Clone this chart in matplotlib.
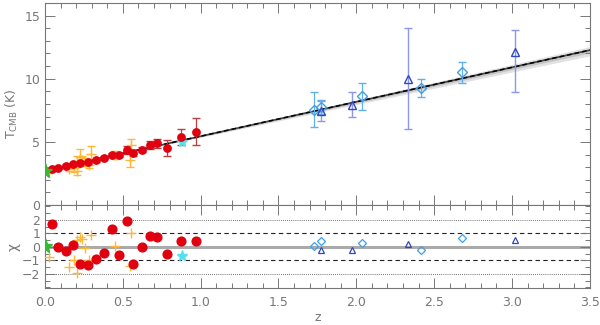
import numpy as np
import matplotlib
matplotlib.use("Agg")
import matplotlib.pyplot as plt
from matplotlib.ticker import MultipleLocator

# ---------------- data ----------------
# SZ clusters (red circles)
red_z = [0.043, 0.081, 0.133, 0.177, 0.224, 0.278, 0.327, 0.380, 0.432, 0.474,
         0.526, 0.566, 0.622, 0.677, 0.720, 0.784, 0.872, 0.972]
red_T = [2.86, 2.94, 3.12, 3.23, 3.31, 3.44, 3.55, 3.76, 3.97, 3.94,
         4.37, 4.10, 4.39, 4.76, 4.89, 4.52, 5.37, 5.82]
red_err = [0.08, 0.08, 0.10, 0.10, 0.12, 0.15, 0.12, 0.15, 0.15, 0.15,
           0.30, 0.25, 0.20, 0.30, 0.35, 0.65, 0.65, 1.05]
red_chi = [1.70, 0.00, -0.30, 0.15, -1.28, -1.38, -0.87, -0.44, 1.31, -0.59,
           1.95, -1.24, 0.00, 0.79, 0.72, -0.54, 0.44, 0.47]

# other SZ samples (orange crosses)
org_z = [0.028, 0.156, 0.188, 0.203, 0.207, 0.224, 0.235, 0.256, 0.293, 0.284,
         0.450, 0.551, 0.545]
org_T = [2.70, 2.86, 2.95, 2.70, 3.50, 3.80, 3.55, 3.40, 4.05, 3.20,
         3.98, 4.75, 3.55]
org_err = [0.14, 0.20, 0.30, 0.30, 0.40, 0.60, 0.30, 0.30, 0.60, 0.30,
           0.30, 0.50, 0.50]
org_chi = [-0.72, -1.46, -0.96, -1.95, 0.52, 0.76, 0.59, -0.05, 0.89, -1.00,
           0.10, 1.06, -1.41]

# local measurement (green star) and one cyan star
grn_z, grn_T, grn_chi = [0.0], [2.725], [0.05]
cyn_z, cyn_T, cyn_chi = [0.883], [5.03], [-0.67]

# high-z absorbers: diamonds
dia_z = [1.727, 1.773, 2.034, 2.414, 2.680]
dia_T = [7.54, 7.75, 8.60, 9.26, 10.50]
dia_err = [1.40, 0.55, 1.07, 0.72, 0.80]
dia_chi = [0.10, 0.40, 0.32, -0.22, 0.69]

# high-z absorbers: triangles
tri_z = [1.773, 1.970, 2.333, 3.017]
tri_T = [7.41, 7.94, 10.00, 12.12]
tri_lo = [0.75, 1.00, 4.00, 3.20]
tri_hi = [0.85, 1.00, 4.05, 1.70]
tri_chi = [-0.25, -0.20, 0.22, 0.52]

# fit: T0 (1+z)^(1-beta)
T0 = 2.725
beta = 0.0
beta_band = [0.012, 0.025]

# ---------------- figure ----------------
plt.rcParams['font.family'] = ['DejaVu Sans']
tc = '#777777'
fig = plt.figure(figsize=(6.0, 3.25), dpi=100)
ax1 = fig.add_axes([0.075, 0.369, 0.908, 0.622])
ax2 = fig.add_axes([0.075, 0.114, 0.908, 0.255])

zz = np.linspace(0, 3.5, 300)
for b, col in zip(beta_band[::-1], ['#e2e2e2', '#c4c4c4']):
    ax1.fill_between(zz, T0 * (1 + zz) ** (1 - b), T0 * (1 + zz) ** (1 + b * 0.6),
                     color=col, lw=0, zorder=1)
ax1.plot(zz, T0 * (1 + zz) ** (1 - beta), color='#444444', lw=1.2, zorder=2)
ax1.plot(zz, T0 * (1 + zz) ** (1 - beta), color='black', lw=1.1, ls=(0, (3, 2)), zorder=2)

ax1.errorbar(org_z, org_T, yerr=org_err, fmt='+', color='#FFB836', ms=7, mew=1.0,
             elinewidth=0.9, capsize=3, zorder=3)
ax1.errorbar(red_z, red_T, yerr=red_err, fmt='none', ecolor='#B84040',
             elinewidth=0.9, capsize=3, zorder=3)
ax1.plot(red_z, red_T, 'o', color='#E0000F', ms=5.3, mec='#E0000F', zorder=4)
ax1.plot(cyn_z, cyn_T, '*', color='#55E0EE', ms=7, zorder=3)
ax1.plot(grn_z, grn_T, '*', color='#33BB33', ms=11, zorder=5)

ax1.errorbar(dia_z, dia_T, yerr=dia_err, fmt='D', mfc='none', mec='#3FA0E6', ecolor='#5FB0EE',
             ms=5, mew=1.0, elinewidth=0.9, capsize=3, zorder=4)
ax1.errorbar(tri_z, tri_T, yerr=[tri_lo, tri_hi], fmt='^', mfc='none', mec='#3048C0',
             ecolor='#8C98EC', ms=6, mew=1.0, elinewidth=1.0, capsize=3, zorder=4)

ax1.set_xlim(0, 3.5)
ax1.set_ylim(0, 16)
ax1.yaxis.set_major_locator(MultipleLocator(5))
ax1.yaxis.set_minor_locator(MultipleLocator(1))
ax1.set_ylabel(r'T$_{\rm CMB}$ (K)', color=tc, fontsize=9)
ax1.tick_params(labelbottom=False)

# chi panel
ax2.axhline(0, color='#aaaaaa', lw=2.2, zorder=1)
for v in (1, -1):
    ax2.axhline(v, color='#222222', lw=0.8, ls=(0, (4, 3)), zorder=1)
for v in (2, -2):
    ax2.axhline(v, color='#444444', lw=0.6, ls=(0, (1, 1.5)), zorder=1)

ax2.plot(org_z, org_chi, '+', color='#FFB836', ms=7, mew=1.0, zorder=3)
ax2.plot(red_z, red_chi, 'o', color='#E0000F', ms=6.3, zorder=4)
ax2.plot(cyn_z, cyn_chi, '*', color='#55E0EE', ms=8, zorder=3)
ax2.plot(grn_z, grn_chi, '*', color='#33BB33', ms=11, zorder=5)
ax2.plot(dia_z, dia_chi, 'D', mfc='none', mec='#3FA0E6', ms=4, mew=0.9, zorder=3)
ax2.plot(tri_z, tri_chi, '^', mfc='none', mec='#3048C0', ms=5, mew=0.9, zorder=3)

ax2.set_xlim(0, 3.5)
ax2.set_ylim(-3.05, 3.1)
ax2.set_yticks([-2, -1, 0, 1, 2])
ax2.set_yticklabels(['\u22122', '\u22121', '0', '1', '2'])
ax2.set_xticks(np.arange(0, 3.51, 0.5))
ax2.set_xticklabels(['0.0', '0.5', '1.0', '1.5', '2.0', '2.5', '3.0', '3.5'])
ax2.set_xlabel('z', color=tc, fontsize=9, labelpad=1)
ax2.set_ylabel('\u03c7', color=tc, fontsize=10)

for ax in (ax1, ax2):
    ax.xaxis.set_minor_locator(MultipleLocator(0.1))
    ax.tick_params(which='both', direction='in', top=True, right=True, colors='#777777',
                   labelcolor=tc, labelsize=9, width=0.7)
    ax.tick_params(which='major', length=7)
    ax.tick_params(which='minor', length=3.5)
    for s in ax.spines.values():
        s.set_color('#777777')
        s.set_linewidth(0.8)
ax2.yaxis.set_minor_locator(MultipleLocator(0.5))
ax1.yaxis.set_label_coords(-0.045, 0.45)
ax2.yaxis.set_label_coords(-0.045, 0.5)
ax2.tick_params(axis='x', pad=6)

fig.savefig('out.png', dpi=100)
